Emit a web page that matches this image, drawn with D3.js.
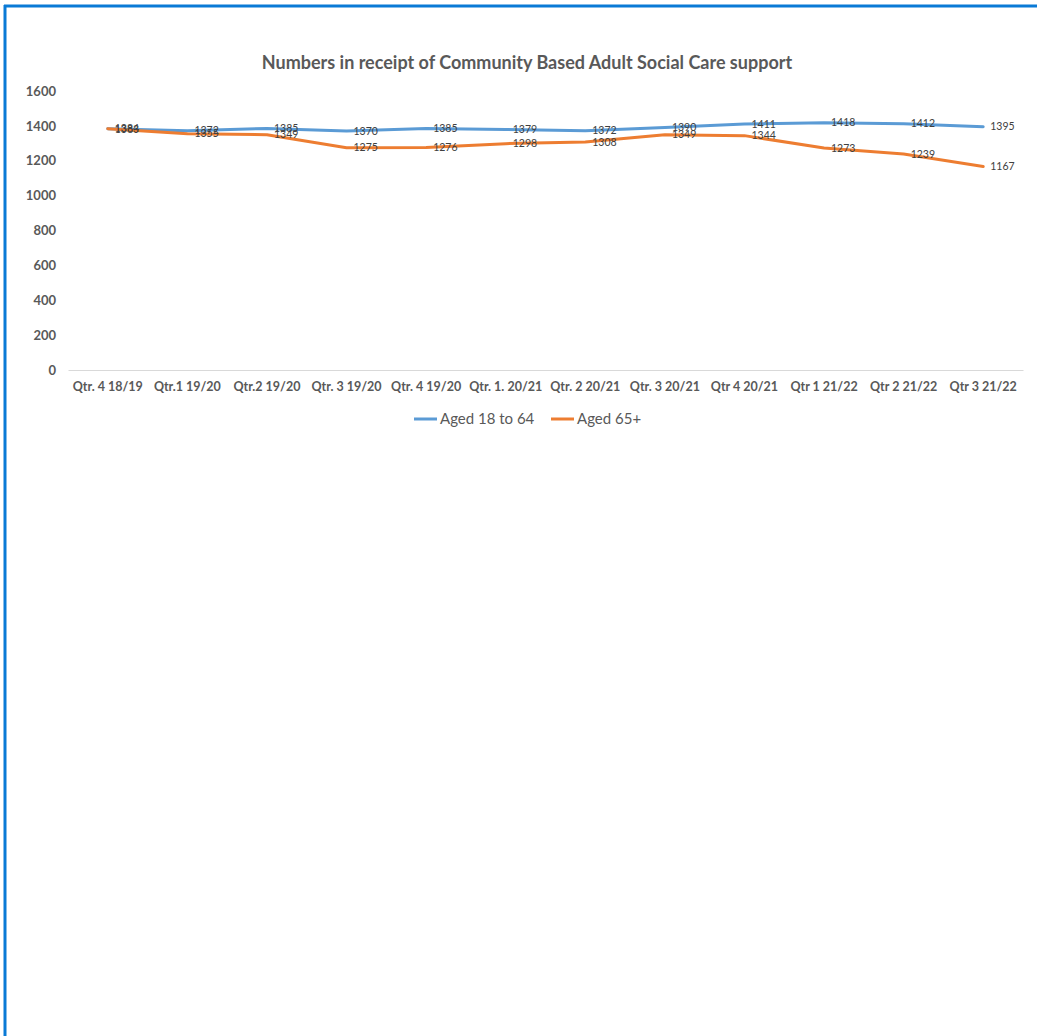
<!DOCTYPE html>
<html>
<head>
<meta charset="utf-8">
<script src="https://cdn.jsdelivr.net/npm/d3@7"></script>
<style>
  body { margin: 0; background: #fff; }
  svg { display: block; font-family: Lato, "Open Sans", sans-serif; }
</style>
</head>
<body>
<svg id="chart" width="1037" height="1036"></svg>
<script>
const quarters = ["Qtr. 4 18/19", "Qtr.1 19/20", "Qtr.2 19/20", "Qtr. 3 19/20", "Qtr. 4 19/20", "Qtr. 1. 20/21",
  "Qtr. 2 20/21", "Qtr. 3 20/21", "Qtr 4 20/21", "Qtr 1 21/22", "Qtr 2 21/22", "Qtr 3 21/22"];
const aged18to64 = [1383, 1372, 1385, 1370, 1385, 1379, 1372, 1390, 1411, 1418, 1412, 1395];
const aged65plus = [1384, 1355, 1349, 1275, 1276, 1298, 1308, 1349, 1344, 1273, 1239, 1167];
const yTicks = [0, 200, 400, 600, 800, 1000, 1200, 1400, 1600];

const seriesList = [
  { name: "Aged 18 to 64", values: aged18to64, color: "#5B9BD5" },
  { name: "Aged 65+", values: aged65plus, color: "#ED7D31" }
];

const svg = d3.select("svg#chart");
const margin = { top: 91, left: 68, right: 14, bottom: 666 };
const width = 1037 - margin.left - margin.right,
  height = 1036 - margin.top - margin.bottom;

// frame (only top and left edges show in the shot)
svg.append("line").attr("x1", 4).attr("x2", 1037).attr("y1", 6).attr("y2", 6)
  .attr("stroke", "#0A7AD6").attr("stroke-width", 3);
svg.append("line").attr("x1", 5).attr("x2", 5).attr("y1", 5).attr("y2", 1036)
  .attr("stroke", "#0A7AD6").attr("stroke-width", 3);

svg.append("text")
  .attr("x", 527).attr("y", 69)
  .attr("text-anchor", "middle")
  .attr("font-size", "18px").attr("font-weight", "bold")
  .attr("fill", "#595959")
  .text("Numbers in receipt of Community Based Adult Social Care support");

const g = svg.append("g").attr("transform", `translate(${margin.left},${margin.top})`);

const x = d3.scaleBand().domain(quarters).range([0, width]);
const y = d3.scaleLinear().domain([0, 1600]).range([height, 0]);

// y axis labels only
g.append("g")
  .call(d3.axisLeft(y).tickValues(yTicks).tickFormat(d3.format("d")).tickSize(0).tickPadding(12))
  .call(a => {
    a.select(".domain").remove();
    a.selectAll("text").attr("font-size", "13px").attr("font-weight", "bold")
      .attr("fill", "#595959").attr("font-family", "Lato, sans-serif");
  });

// x axis
g.append("g")
  .attr("transform", `translate(0,${height})`)
  .call(d3.axisBottom(x).tickSize(0).tickPadding(12))
  .call(a => {
    a.select(".domain").attr("stroke", "#D9D9D9");
    a.selectAll("text").attr("font-size", "12.5px").attr("font-weight", "bold")
      .attr("fill", "#595959").attr("font-family", "Lato, sans-serif");
  });

const cx = d => x(d) + x.bandwidth() / 2;
const line = d3.line().x((v, i) => cx(quarters[i])).y(v => y(v));

seriesList.forEach(s => {
  g.append("path")
    .datum(s.values)
    .attr("fill", "none")
    .attr("stroke", s.color)
    .attr("stroke-width", 3)
    .attr("stroke-linejoin", "round")
    .attr("stroke-linecap", "round")
    .attr("d", line);
});

seriesList.forEach(s => {
  g.append("g").selectAll("text")
    .data(s.values)
    .join("text")
    .attr("x", (v, i) => cx(quarters[i]) + 7)
    .attr("y", v => y(v))
    .attr("dy", "0.35em")
    .attr("font-size", "10.5px")
    .attr("fill", "#404040")
    .text(v => v);
});

// legend
const legend = svg.append("g").attr("transform", "translate(414,419)");
const legendX = [0, 137];
seriesList.forEach((s, i) => {
  const lg = legend.append("g").attr("transform", `translate(${legendX[i]},0)`);
  lg.append("line").attr("x1", 0).attr("x2", 23).attr("y1", 0).attr("y2", 0)
    .attr("stroke", s.color).attr("stroke-width", 3);
  lg.append("text").attr("x", 26).attr("dy", "0.35em")
    .attr("font-size", "15px").attr("fill", "#595959").text(s.name);
});
</script>
</body>
</html>
